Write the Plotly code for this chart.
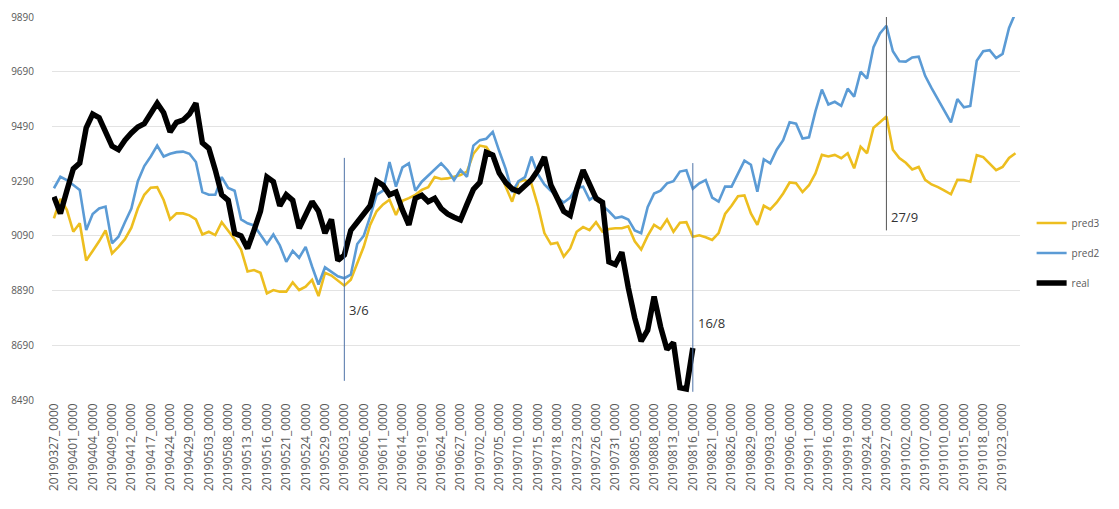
import plotly.graph_objects as go

tick_labels = [
    "20190327_0000", "20190401_0000", "20190404_0000", "20190409_0000", "20190412_0000",
    "20190417_0000", "20190424_0000", "20190429_0000", "20190503_0000", "20190508_0000",
    "20190513_0000", "20190516_0000", "20190521_0000", "20190524_0000", "20190529_0000",
    "20190603_0000", "20190606_0000", "20190611_0000", "20190614_0000", "20190619_0000",
    "20190624_0000", "20190627_0000", "20190702_0000", "20190705_0000", "20190710_0000",
    "20190715_0000", "20190718_0000", "20190723_0000", "20190726_0000", "20190731_0000",
    "20190805_0000", "20190808_0000", "20190813_0000", "20190816_0000", "20190821_0000",
    "20190826_0000", "20190829_0000", "20190903_0000", "20190906_0000", "20190911_0000",
    "20190916_0000", "20190919_0000", "20190924_0000", "20190927_0000", "20191002_0000",
    "20191007_0000", "20191010_0000", "20191015_0000", "20191018_0000", "20191023_0000",
]
label_step = 3

real = [
    9233, 9172, 9255, 9335, 9356, 9485, 9535, 9522, 9470, 9418,
    9405, 9440, 9466, 9488, 9500, 9535, 9575, 9540, 9470, 9505,
    9513, 9535, 9575, 9430, 9410, 9331, 9240, 9220, 9099, 9090,
    9044, 9110, 9180, 9305, 9288, 9200, 9240, 9220, 9118, 9166,
    9215, 9180, 9100, 9150, 9000, 9020, 9110, 9140, 9170, 9200,
    9290, 9275, 9240, 9250, 9185, 9130, 9227, 9238, 9215, 9227,
    9190, 9170, 9158, 9148, 9205, 9260, 9285, 9395, 9385, 9320,
    9285, 9262, 9252, 9275, 9295, 9330, 9378, 9276, 9230, 9180,
    9165, 9260, 9330, 9280, 9227, 9212, 8995, 8985, 9030, 8900,
    8790, 8705, 8745, 8868, 8758, 8675, 8700, 8535, 8530, 8680,
]

pred2 = [
    9264, 9306, 9294, 9276, 9258, 9111, 9170, 9190, 9197, 9063,
    9087, 9140, 9190, 9290, 9345, 9380, 9420, 9380, 9390, 9396,
    9398, 9390, 9360, 9250, 9240, 9240, 9305, 9265, 9255, 9150,
    9136, 9128, 9095, 9060, 9095, 9055, 8995, 9035, 9010, 9050,
    8978, 8912, 8975, 8960, 8942, 8935, 8948, 9060, 9090, 9160,
    9240, 9255, 9360, 9270, 9340, 9355, 9255, 9288, 9310, 9332,
    9355, 9330, 9294, 9331, 9306, 9420, 9440, 9445, 9470, 9400,
    9335, 9250, 9290, 9305, 9380, 9315, 9278, 9255, 9230, 9212,
    9230, 9265, 9270, 9222, 9238, 9200, 9180, 9155, 9160, 9150,
    9110, 9100, 9195, 9245, 9255, 9282, 9290, 9325, 9330, 9262,
    9282, 9294, 9230, 9215, 9270, 9270, 9320, 9365, 9350, 9251,
    9370, 9355, 9405, 9440, 9505, 9500, 9446, 9450, 9545, 9625,
    9570, 9580, 9565, 9628, 9599, 9690, 9665, 9780, 9830, 9858,
    9765, 9728, 9727, 9742, 9745, 9675, 9630, 9590, 9550, 9505,
    9590, 9560, 9565, 9730, 9765, 9769, 9740, 9755, 9850, 9905,
]

pred3 = [
    9154, 9225, 9185, 9105, 9136, 9000, 9035, 9070, 9110, 9026,
    9050, 9078, 9120, 9190, 9240, 9266, 9268, 9221, 9150, 9172,
    9172, 9165, 9150, 9095, 9105, 9093, 9140, 9108, 9078, 9040,
    8960, 8965, 8955, 8880, 8892, 8886, 8886, 8920, 8892, 8904,
    8929, 8870, 8955, 8945, 8925, 8908, 8930, 8990, 9050, 9130,
    9180, 9205, 9222, 9166, 9218, 9228, 9240, 9258, 9268, 9305,
    9298, 9300, 9306, 9312, 9325, 9390, 9420, 9415, 9380, 9330,
    9270, 9215, 9288, 9294, 9280, 9200, 9100, 9060, 9065, 9014,
    9044, 9105, 9122, 9111, 9140, 9105, 9115, 9118, 9118, 9125,
    9070, 9040, 9090, 9130, 9115, 9150, 9105, 9138, 9140, 9087,
    9092, 9085, 9075, 9100, 9170, 9200, 9235, 9238, 9172, 9130,
    9200, 9187, 9212, 9245, 9285, 9282, 9250, 9275, 9318, 9386,
    9380, 9386, 9374, 9392, 9337, 9416, 9392, 9485, 9505, 9526,
    9405, 9374, 9357, 9333, 9342, 9295, 9278, 9268, 9255, 9242,
    9295, 9294, 9288, 9385, 9378, 9352, 9330, 9342, 9375, 9392,
]

y_ticks = [8490, 8690, 8890, 9090, 9290, 9490, 9690, 9890]

# marker lines: (label date, text, line top, line bottom, text y, colour)
markers = [
    ("20190603_0000", "3/6", 9375, 8560, 8820, "#4f73a8"),
    ("20190816_0000", "16/8", 9356, 8520, 8770, "#4f73a8"),
    ("20190927_0000", "27/9", 9890, 9110, 9160, "#555555"),
]

x_real = list(range(len(real)))
x_pred = list(range(len(pred2)))

fig = go.Figure()
fig.add_trace(go.Scatter(x=x_pred, y=pred3, mode="lines", name="pred3",
                         line=dict(color="#EDBE1F", width=2.6), legendgroup="a"))
fig.add_trace(go.Scatter(x=x_pred, y=pred2, mode="lines", name="pred2",
                         line=dict(color="#5B9BD5", width=2.6), legendgroup="b"))
fig.add_trace(go.Scatter(x=x_real, y=real, mode="lines", name="real",
                         line=dict(color="#000000", width=5.5), legendgroup="c"))

for date, txt, ytop, ybot, ytxt, col in markers:
    xi = tick_labels.index(date) * label_step
    fig.add_shape(type="line", x0=xi, x1=xi, y0=ybot, y1=ytop, xref="x", yref="y",
                  line=dict(color=col, width=1))
    fig.add_annotation(x=xi, y=ytxt, text=txt, showarrow=False, xanchor="left",
                       xshift=3, font=dict(size=13, color="#333333", family="Open Sans"))

fig.update_layout(
    width=1103, height=493,
    margin=dict(l=44, r=91, t=9, b=101, autoexpand=False),
    plot_bgcolor="white", paper_bgcolor="white",
    font=dict(family="Open Sans", color="#595959"),
    legend=dict(x=1.012, y=0.50, xanchor="left", yanchor="top",
                font=dict(size=10, color="#595959"), tracegroupgap=11,
                bgcolor="rgba(0,0,0,0)"),
    showlegend=True,
)
fig.update_xaxes(
    range=[-0.3, 149.7],
    tickmode="array",
    tickvals=[i * label_step for i in range(len(tick_labels))],
    ticktext=tick_labels,
    tickangle=-90,
    tickfont=dict(size=12, color="#595959"),
    showgrid=False, zeroline=False, showline=False, ticks="",
    automargin=False,
)
fig.update_yaxes(
    range=[8490, 9890],
    tickmode="array", tickvals=y_ticks, ticktext=[str(v) for v in y_ticks],
    tickfont=dict(size=10, color="#595959"),
    showgrid=True, gridcolor="#e3e3e3", gridwidth=1,
    zeroline=False, showline=False, ticks="",
    ticklabelstandoff=17,
    automargin=False,
)

fig.write_html("out.html")
